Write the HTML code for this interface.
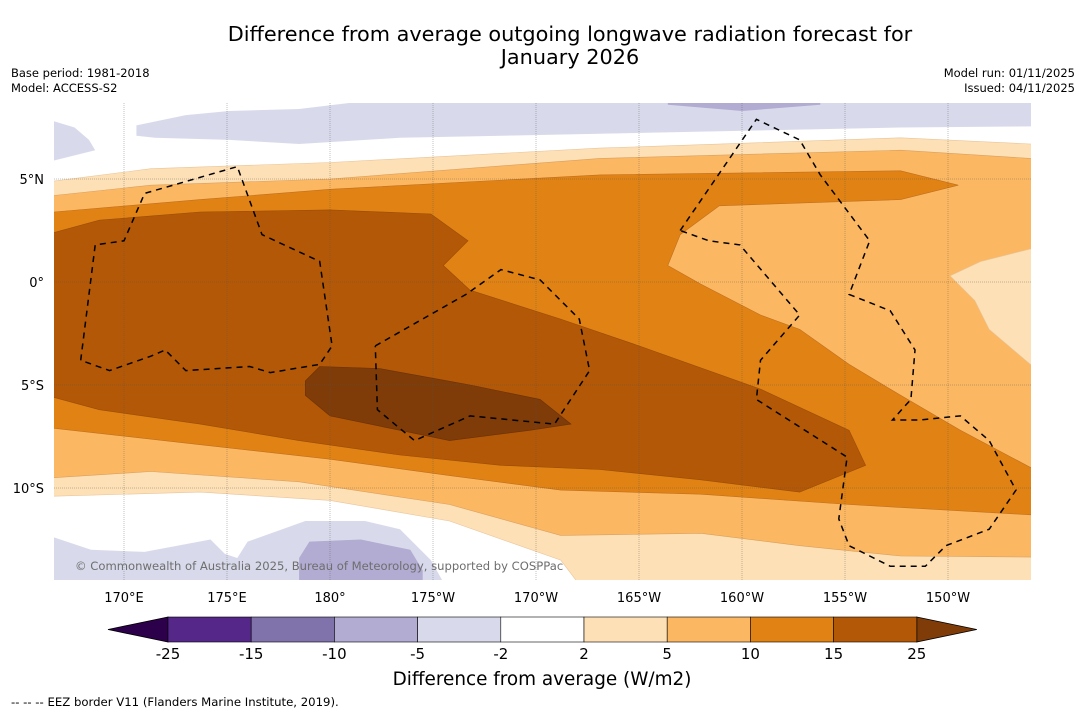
<!DOCTYPE html>
<html><head><meta charset="utf-8"><style>
body{margin:0;background:#fff;width:1085px;height:713px;overflow:hidden;font-family:"DejaVu Sans","Liberation Sans",sans-serif}
svg{display:block}
</style></head><body>
<svg id="c" width="1085" height="713" xmlns="http://www.w3.org/2000/svg">
<text x="570" y="41" font-size="20.8" text-anchor="middle">Difference from average outgoing longwave radiation forecast for</text>
<text x="570" y="64" font-size="20.8" text-anchor="middle">January 2026</text>
<text x="11" y="77" font-size="11.5">Base period: 1981-2018</text>
<text x="11" y="92" font-size="11.5">Model: ACCESS-S2</text>
<text x="1075" y="77" font-size="11.5" text-anchor="end">Model run: 01/11/2025</text>
<text x="1075" y="92" font-size="11.5" text-anchor="end">Issued: 04/11/2025</text>
<defs><clipPath id="mc"><rect x="54" y="103" width="977" height="477"/></clipPath></defs>
<g id="map" clip-path="url(#mc)"><rect x="54" y="103" width="977" height="477" fill="#fff"/></g>
<g id="grid"></g>
<g id="eez" clip-path="url(#mc)"></g>
<g id="axes"></g>
<text x="75" y="570" font-size="11.6" fill="#6e6e6e">© Commonwealth of Australia 2025, Bureau of Meteorology, supported by COSPPac</text>
<g id="cbar"></g>
<text x="542" y="685" font-size="18.4" text-anchor="middle">Difference from average (W/m2)</text>
<text x="11" y="706" font-size="11.7">--  --  -- EEZ border V11 (Flanders Marine Institute, 2019).</text>
</svg>
<script>
const lonTicks=[170,175,180,185,190,195,200,205,210];
const lonLabels=["170°E","175°E","180°","175°W","170°W","165°W","160°W","155°W","150°W"];
const latTicks=[5,0,-5,-10];
const latLabels=["5°N","0°","5°S","10°S"];
const levels=[-25,-15,-10,-5,-2,2,5,10,15,25];
const levelColors=["#542788","#8073ac","#b2abd2","#d8daeb","#ffffff","#fee0b6","#fbb761","#e08214","#b35806"];
const extLow="#2d004b", extHigh="#7f3b08";
// contour regions [lon,lat] (lon in degrees east 0-360)
const purpleTop=[[170.6,7.6],[173,8.1],[175.1,8.3],[178.5,8.4],[181,8.7],[181,10],[220,10],[220,7.6],[207.7,7.5],[193.1,7.2],[183.4,7],[178.5,6.7],[175.1,6.9],[171.5,7],[170.6,7.1]];
const purpleTopLeft=[[160,7.8],[166.6,7.8],[167.6,7.5],[168.3,6.9],[168.6,6.4],[166.6,5.9],[160,5.9]];
const purpleDarkTop=[[196.4,10],[203.8,10],[203.8,8.6],[200,8.3],[196.4,8.6]];
const purpleBottom=[[160,-12.4],[166.6,-12.4],[168.4,-13],[171,-13.1],[174.2,-12.5],[174.9,-13.2],[175.5,-13.4],[176,-12.6],[178.8,-11.6],[181.7,-11.6],[183.4,-12],[184.9,-13.5],[186.3,-16],[160,-16]];
const purpleDarkBottom=[[178.5,-13.4],[179,-12.6],[181.5,-12.5],[183.9,-13],[184.5,-14],[184.5,-16],[178.5,-16]];
const ge2=[[160,4.9],[166.6,4.9],[171.3,5.5],[180,5.8],[193.1,6.5],[207.7,7],[214,6.7],[220,6.7],[220,-16],[193.1,-16],[191.2,-13.5],[185.8,-11.6],[180,-10.6],[173.7,-10.2],[166.6,-10.4],[160,-10.4]];
const ge5=[[160,4.2],[166.6,4.2],[171.3,4.7],[180,5],[193.1,6],[207.7,6.4],[214,6],[220,6],[220,-13.4],[207.7,-13.3],[202.8,-12.8],[198,-12.2],[191.2,-12.3],[185.8,-10.8],[178.5,-9.7],[171.3,-9.2],[166.6,-9.5],[160,-9.5]];
const ge10=[[160,3.4],[166.6,3.4],[173.7,4],[180,4.5],[193.1,5.2],[207.7,5.4],[210.5,4.7],[207.7,4],[198.9,3.7],[197,2.3],[196.4,0.8],[198,-0.1],[200.9,-1.6],[202.8,-2.3],[205.2,-4],[207.7,-5.5],[210.6,-7.2],[214,-9],[220,-9],[220,-11.3],[214,-11.3],[205.2,-10.8],[198,-10.3],[191.2,-10.1],[185.8,-9.4],[180,-8.6],[173.7,-7.9],[166.6,-7.1],[160,-7.1]];
const ge15=[[160,2.4],[166.6,2.4],[168.8,3],[173.7,3.4],[180,3.5],[184.9,3.3],[186.7,2],[185.5,0.8],[186.8,-0.4],[191.2,-1.8],[195,-3.1],[200.9,-5.2],[205.2,-7.2],[206,-8.9],[202.8,-10.2],[198,-9.6],[193.1,-9.1],[188.3,-8.9],[183.4,-8.4],[178.5,-7.7],[173.7,-6.9],[168.8,-6.2],[166.6,-5.6],[160,-5.6]];
const ge25=[[178.8,-4.8],[179.5,-4.1],[182.4,-4.2],[186.8,-5],[190.2,-5.7],[191.7,-6.9],[189.7,-7.2],[185.8,-7.7],[183.4,-7.2],[180,-6.5],[178.8,-5.5]];
const lowIsland=[[220,1.7],[214,1.6],[211.6,1],[210.1,0.3],[211.3,-0.9],[212,-2.3],[214,-4],[220,-4]];
const eez1=[[167.9,-3.8],[168.6,1.8],[170,2],[171,4.3],[175.5,5.6],[176.7,2.3],[179.5,1],[180.1,-3.1],[179.5,-4],[177.1,-4.4],[176.1,-4.1],[173,-4.3],[172,-3.3],[171.3,-3.6],[169.3,-4.3],[167.9,-3.8]];
const eez2=[[182.2,-3.1],[186.6,-0.6],[188.3,0.6],[190.2,0.1],[192.1,-1.8],[192.6,-4.3],[190.9,-6.9],[186.8,-6.5],[184.1,-7.7],[182.3,-6.2],[182.2,-3.1]];
const eez3=[[197,2.5],[200.7,7.9],[202.8,6.9],[203.8,5.2],[206.2,2],[205.2,-0.6],[207.2,-1.4],[208.4,-3.3],[208.2,-5.7],[207.3,-6.7],[208.6,-6.7],[210.6,-6.5],[212,-7.7],[213.3,-10.1],[212,-12],[209.9,-12.8],[208.9,-13.8],[207.2,-13.8],[205.2,-12.8],[204.7,-11.5],[205.1,-8.5],[200.7,-5.7],[200.9,-3.8],[202.8,-1.6],[199.9,1.8],[198.4,2],[197,2.5]];

const X=lon=>124+(lon-170)*20.6;
const Y=lat=>282-lat*20.6;
const NS="http://www.w3.org/2000/svg";
function mk(tag,attrs,parent){const e=document.createElementNS(NS,tag);for(const k in attrs)e.setAttribute(k,attrs[k]);parent.appendChild(e);return e;}
const map=document.getElementById('map');
function poly(pts,fill,name,stroke){
  const d=pts.map((p,i)=>(i?'L':'M')+X(p[0]).toFixed(1)+' '+Y(p[1]).toFixed(1)).join(' ')+'Z';
  const e=mk('path',{d:d,fill:fill,stroke:stroke||'none','stroke-width':0.6},map);
  
  
}
poly(purpleTop,levelColors[3],'contour-minus5-to-minus2-north');
poly(purpleTopLeft,levelColors[3],'contour-minus5-to-minus2-northwest');
poly(purpleDarkTop,levelColors[2],'contour-minus10-to-minus5-north');
poly(purpleBottom,levelColors[3],'contour-minus5-to-minus2-south');
poly(purpleDarkBottom,levelColors[2],'contour-minus10-to-minus5-south');
poly(ge2,levelColors[5],'contour-2-to-5','#e8c49a');
poly(ge5,levelColors[6],'contour-5-to-10','#d9a060');
poly(ge10,levelColors[7],'contour-10-to-15','#c07020');
poly(ge15,levelColors[8],'contour-15-to-25','#9a4c08');
poly(ge25,extHigh,'contour-above-25','#6a3208');
poly(lowIsland,levelColors[5],'contour-2-to-5-east','#e8c49a');

const eez=document.getElementById('eez');
[eez1,eez2,eez3].forEach((pts,i)=>{
  const d=pts.map((p,j)=>(j?'L':'M')+X(p[0]).toFixed(1)+' '+Y(p[1]).toFixed(1)).join(' ');
  const e=mk('path',{d:d,fill:'none',stroke:'#000','stroke-width':1.5,'stroke-dasharray':'6,5'},eez);
  
  
});

const grid=document.getElementById('grid'), axes=document.getElementById('axes');
lonTicks.forEach((t,i)=>{
  const g=mk('line',{x1:X(t),x2:X(t),y1:103,y2:580,stroke:'#555','stroke-width':0.5,'stroke-dasharray':'1,1','opacity':0.7},grid);
  
  
  const tx=mk('text',{x:X(t),y:602,'font-size':13,'text-anchor':'middle'},axes);
  tx.textContent=lonLabels[i];
  
  
});
latTicks.forEach((t,i)=>{
  const g=mk('line',{x1:54,x2:1031,y1:Y(t),y2:Y(t),stroke:'#555','stroke-width':0.5,'stroke-dasharray':'1,1','opacity':0.7},grid);
  
  
  const tx=mk('text',{x:44,y:Y(t)+5,'font-size':13,'text-anchor':'end'},axes);
  tx.textContent=latLabels[i];
  
  
});

const cb=document.getElementById('cbar');
const cx0=168,cw=83.2,cy=617,ch=25;
const tl=mk('polygon',{points:`${cx0},${cy} ${cx0-60},${cy+ch/2} ${cx0},${cy+ch}`,fill:extLow,stroke:'#000','stroke-width':0.8},cb);


const xe=cx0+cw*levelColors.length;
const tr=mk('polygon',{points:`${xe},${cy} ${xe+60},${cy+ch/2} ${xe},${cy+ch}`,fill:extHigh,stroke:'#000','stroke-width':0.8},cb);


levelColors.forEach((c,i)=>{
  const r=mk('rect',{x:cx0+i*cw,y:cy,width:cw,height:ch,fill:c,stroke:'#000','stroke-width':0.6},cb);
  
  
});
levels.forEach((v,i)=>{
  const t=mk('text',{x:cx0+i*cw,y:cy+ch+17,'font-size':15,'text-anchor':'middle'},cb);
  t.textContent=v;
  
  
});
</script>
</body></html>
